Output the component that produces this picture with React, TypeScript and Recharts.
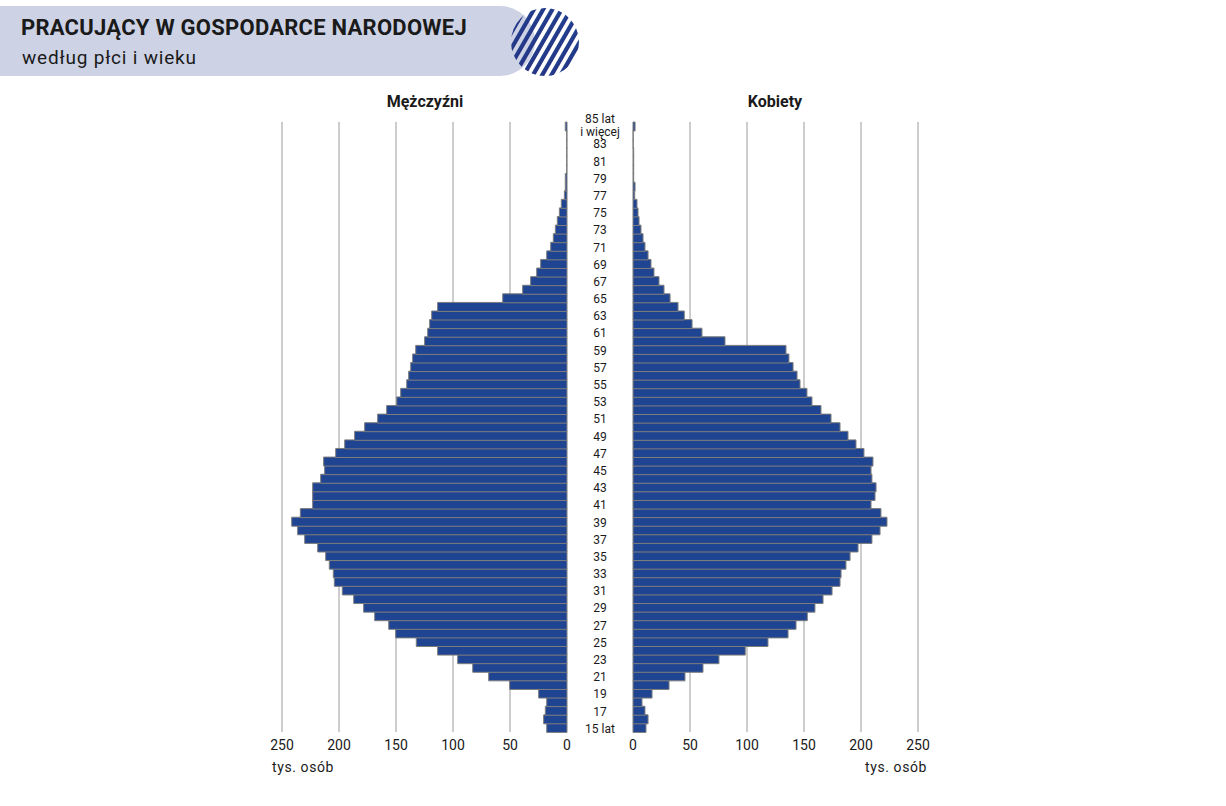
import React from 'react';
import { BarChart, Bar, XAxis, YAxis, CartesianGrid } from 'recharts';

// Age groups, youngest first
const ages = [
  '15 lat', '16', '17', '18', '19', '20', '21', '22', '23', '24',
  '25', '26', '27', '28', '29', '30', '31', '32', '33', '34',
  '35', '36', '37', '38', '39', '40', '41', '42', '43', '44',
  '45', '46', '47', '48', '49', '50', '51', '52', '53', '54',
  '55', '56', '57', '58', '59', '60', '61', '62', '63', '64',
  '65', '66', '67', '68', '69', '70', '71', '72', '73', '74',
  '75', '76', '77', '78', '79', '80', '81', '82', '83', '84',
  '85 lat i więcej'
];

// tys. osób
const men = [
  17.8, 20.5, 19.0, 17.8, 24.9, 50.3, 68.7, 82.7, 95.9, 113.5,
  132.2, 150.3, 156.4, 168.7, 178.4, 187.1, 197.1, 204.1, 205.0, 208.5,
  211.7, 218.7, 230.1, 236.3, 241.5, 233.9, 223.1, 223.1, 223.1, 216.1,
  212.6, 213.5, 202.9, 195.0, 186.3, 177.5, 166.1, 158.2, 149.4, 145.9,
  140.6, 138.9, 137.1, 135.4, 132.7, 124.9, 122.2, 120.5, 118.7, 113.5,
  56.4, 38.9, 31.9, 26.6, 23.1, 17.8, 14.3, 12.0, 10.2, 8.5,
  6.7, 5.0, 2.3, 1.5, 1.5, 0.3, 0.3, 0.3, 0.3, 0.3,
  1.5
];

const women = [
  11.4, 13.2, 10.5, 7.9, 16.7, 31.6, 45.6, 61.4, 75.4, 98.5,
  118.4, 136.0, 143.0, 152.9, 159.6, 166.7, 174.6, 181.6, 182.5, 186.8,
  190.4, 197.4, 209.6, 216.7, 222.8, 217.5, 208.8, 212.3, 213.2, 209.6,
  208.8, 210.5, 202.6, 195.6, 188.6, 181.6, 173.7, 164.9, 157.0, 152.6,
  146.5, 143.9, 140.4, 136.8, 134.2, 80.7, 60.5, 51.8, 45.0, 39.5,
  32.5, 27.2, 22.8, 18.4, 15.8, 13.2, 10.5, 8.8, 7.0, 5.3,
  4.4, 3.5, 1.5, 1.8, 0.6, 0.6, 0.6, 0.6, 0.2, 0.2,
  1.8
];

const valueTicks = [0, 50, 100, 150, 200, 250];
const gridValues = [50, 100, 150, 200, 250];

const data = ages.map((age, i) => ({ age, men: men[i], women: women[i] }));

const BAR_FILL = '#1f4491';
const BAR_STROKE = '#7d7d7d';
const MID_WIDTH = 66;
const FONT = 'Roboto, "Noto Sans", sans-serif';

const styles = {
  page: {
    position: 'absolute' as const,
    left: 0,
    top: 0,
    width: 1226,
    height: 806,
    background: '#ffffff',
    fontFamily: FONT,
    color: '#1a1a1a',
    overflow: 'hidden' as const
  },
  band: {
    position: 'absolute' as const,
    left: 0,
    top: 6,
    width: 535,
    height: 70,
    background: '#cdd3e5',
    borderRadius: '0 35px 35px 0'
  },
  title: {
    position: 'absolute' as const,
    left: 21,
    top: 15,
    fontSize: 22,
    fontWeight: 700,
    letterSpacing: '0.25px',
    whiteSpace: 'nowrap' as const
  },
  subtitle: {
    position: 'absolute' as const,
    left: 22,
    top: 46,
    fontSize: 19,
    letterSpacing: '0.8px',
    whiteSpace: 'nowrap' as const
  },
  sideTitle: {
    position: 'absolute' as const,
    top: 92,
    width: 200,
    textAlign: 'center' as const,
    fontSize: 16,
    fontWeight: 700
  },
  unit: {
    position: 'absolute' as const,
    top: 759,
    fontSize: 14,
    letterSpacing: '0.6px',
    whiteSpace: 'nowrap' as const
  }
};

const AgeTick = (props: any) => {
  const { x, y, payload } = props;
  const cx = x + MID_WIDTH / 2;
  if (payload.value === '85 lat i więcej') {
    return (
      <g>
        <text x={cx} y={y - 3} textAnchor="middle" fontSize={12} fill="#1a1a1a" fontFamily={FONT}>85 lat</text>
        <text x={cx} y={y + 10} textAnchor="middle" fontSize={12} fill="#1a1a1a" fontFamily={FONT}>i więcej</text>
      </g>
    );
  }
  return (
    <text x={cx} y={y + 5} textAnchor="middle" fontSize={12} fill="#1a1a1a" fontFamily={FONT}>
      {payload.value}
    </text>
  );
};

const Logo = () => (
  <svg width={72} height={72} style={{ position: 'absolute', left: 509, top: 6 }}>
    <defs>
      <clipPath id="logoClip">
        <circle cx={36} cy={36} r={34} />
      </clipPath>
      <linearGradient id="logoGrad" x1="0" y1="0" x2="1" y2="1">
        <stop offset="0%" stopColor="#1d4794" />
        <stop offset="100%" stopColor="#2a2d7f" />
      </linearGradient>
    </defs>
    <g clipPath="url(#logoClip)">
      <g transform="rotate(30 36 36)">
        {[-40, -32, -24, -16, -8, 0, 8, 16, 24, 32, 40, 48, 56, 64, 72, 80, 88, 96, 104].map((o) => (
          <rect key={o} x={o} y={-30} width={4.2} height={140} fill="url(#logoGrad)" />
        ))}
      </g>
    </g>
  </svg>
);

const App: React.FC = () => (
  <div style={styles.page}>
    <div style={styles.band} />
    <Logo />
    <div style={styles.title}>PRACUJĄCY W GOSPODARCE NARODOWEJ</div>
    <div style={styles.subtitle}>według płci i wieku</div>

    <div style={{ ...styles.sideTitle, left: 325 }}>Mężczyźni</div>
    <div style={{ ...styles.sideTitle, left: 675 }}>Kobiety</div>

    <div style={{ position: 'absolute', left: 260, top: 110 }}>
      <BarChart
        width={373}
        height={652}
        data={data}
        layout="vertical"
        barCategoryGap={0}
        margin={{ top: 12, right: 0, bottom: 0, left: 22 }}
      >
        <CartesianGrid horizontal={false} stroke="#9a9a9a" verticalValues={gridValues} />
        <XAxis
          type="number"
          domain={[0, 250]}
          ticks={valueTicks}
          reversed
          interval={0}
          axisLine={false}
          tickLine={false}
          height={30}
          tick={{ fontSize: 14, fill: '#1a1a1a', fontFamily: FONT }}
        />
        <YAxis
          type="category"
          dataKey="age"
          orientation="right"
          reversed
          width={MID_WIDTH}
          interval={1}
          axisLine={false}
          tickLine={false}
          tickSize={0}
          tickMargin={0}
          tick={<AgeTick />}
        />
        <Bar dataKey="men" fill={BAR_FILL} stroke={BAR_STROKE} strokeWidth={1} isAnimationActive={false} />
      </BarChart>
    </div>

    <div style={{ position: 'absolute', left: 613, top: 110 }}>
      <BarChart
        width={325}
        height={652}
        data={data}
        layout="vertical"
        barCategoryGap={0}
        margin={{ top: 12, right: 20, bottom: 0, left: 20 }}
      >
        <CartesianGrid horizontal={false} stroke="#9a9a9a" verticalValues={gridValues} />
        <XAxis
          type="number"
          domain={[0, 250]}
          ticks={valueTicks}
          interval={0}
          axisLine={false}
          tickLine={false}
          height={30}
          tick={{ fontSize: 14, fill: '#1a1a1a', fontFamily: FONT }}
        />
        <YAxis type="category" dataKey="age" reversed hide width={0} />
        <Bar dataKey="women" fill={BAR_FILL} stroke={BAR_STROKE} strokeWidth={1} isAnimationActive={false} />
      </BarChart>
    </div>

    <div style={{ ...styles.unit, left: 272 }}>tys. osób</div>
    <div style={{ ...styles.unit, left: 865 }}>tys. osób</div>
  </div>
);

export default App;
